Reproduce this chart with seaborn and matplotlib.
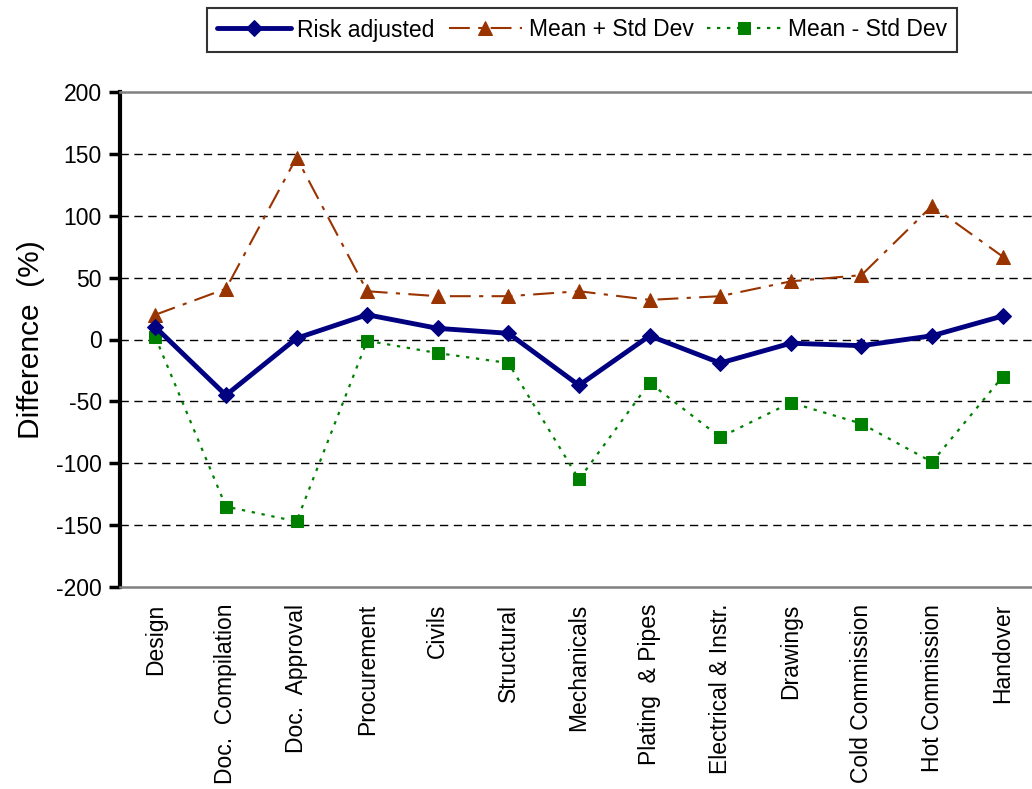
import matplotlib
matplotlib.use("Agg")
import matplotlib.pyplot as plt
import seaborn as sns
import pandas as pd

categories = ["Design", "Doc.  Compilation", "Doc.  Approval", "Procurement", "Civils",
              "Structural", "Mechanicals", "Plating  & Pipes", "Electrical & Instr.",
              "Drawings", "Cold Commission", "Hot Commission", "Handover"]
risk_adjusted = [10, -45, 1, 20, 9, 5, -37, 3, -19, -3, -5, 3, 19]
mean_plus_std = [20, 41, 147, 39, 35, 35, 39, 32, 35, 47, 52, 108, 67]
mean_minus_std = [2, -135, -147, -1, -11, -19, -113, -35, -79, -51, -68, -99, -30]
yticks = [-200, -150, -100, -50, 0, 50, 100, 150, 200]

sns.set_style("white")
plt.rcParams['font.family'] = ['Liberation Sans', 'DejaVu Sans']
plt.rcParams.update({"text.color": "black", "axes.labelcolor": "black",
                     "xtick.color": "black", "ytick.color": "black"})

x = list(range(len(categories)))
df = pd.DataFrame({"x": x, "risk": risk_adjusted, "plus": mean_plus_std, "minus": mean_minus_std})

fig = plt.figure(figsize=(10.32, 7.89), dpi=100)
ax = fig.add_axes([120/1032, 202/789, 918/1032, 495/789])

# grid lines
for v in yticks[1:-1]:
    ax.axhline(v, color="black", lw=1.0, ls=(0, (6, 4)), zorder=0)

sns.lineplot(data=df, x="x", y="plus", ax=ax, color="#993300", lw=1.5,
             linestyle=(0, (10, 4, 2, 4)), marker="^", markersize=10,
             markeredgecolor="#993300", label="Mean + Std Dev", zorder=3)
sns.lineplot(data=df, x="x", y="minus", ax=ax, color="#008000", lw=1.6,
             linestyle=(0, (1.5, 3)), marker="s", markersize=8,
             markeredgecolor="#008000", label="Mean - Std Dev", zorder=3)
sns.lineplot(data=df, x="x", y="risk", ax=ax, color="#000080", lw=3.5,
             linestyle="-", marker="D", markersize=8,
             markeredgecolor="#000080", label="Risk adjusted", zorder=4)

ax.set_xlim(-0.5, len(categories) - 0.5)
ax.set_ylim(-200, 200)
ax.set_yticks(yticks)
ax.set_yticklabels([str(v) for v in yticks], fontsize=16.5)
ax.set_xticks(x)
ax.set_xticklabels(categories, rotation=90, fontsize=16.5, va="top", ha="center")
ax.tick_params(axis="x", length=0, pad=12)
ax.tick_params(axis="y", direction="out", length=8, width=2.5, pad=5, left=True)
ax.set_xlabel("")
ax.set_ylabel("Difference  (%)", fontsize=21.5, labelpad=8)

for side in ["top", "bottom"]:
    ax.spines[side].set_color("#808080")
    ax.spines[side].set_linewidth(1.8)
ax.spines["left"].set_color("black")
ax.spines["left"].set_linewidth(3)
ax.spines["right"].set_visible(False)

handles, labels = ax.get_legend_handles_labels()
order = [2, 0, 1]
ax.get_legend().remove()
leg = fig.legend([handles[i] for i in order], [labels[i] for i in order],
                 loc="center", bbox_to_anchor=(582/1032, 1 - 30/789), ncol=3,
                 fontsize=16.5, frameon=True, fancybox=False, edgecolor="black",
                 handlelength=3.2, handletextpad=0.3, columnspacing=0.6,
                 borderpad=0.45, borderaxespad=0)
leg.get_frame().set_linewidth(1.5)

fig.savefig("out.png", dpi=100)
